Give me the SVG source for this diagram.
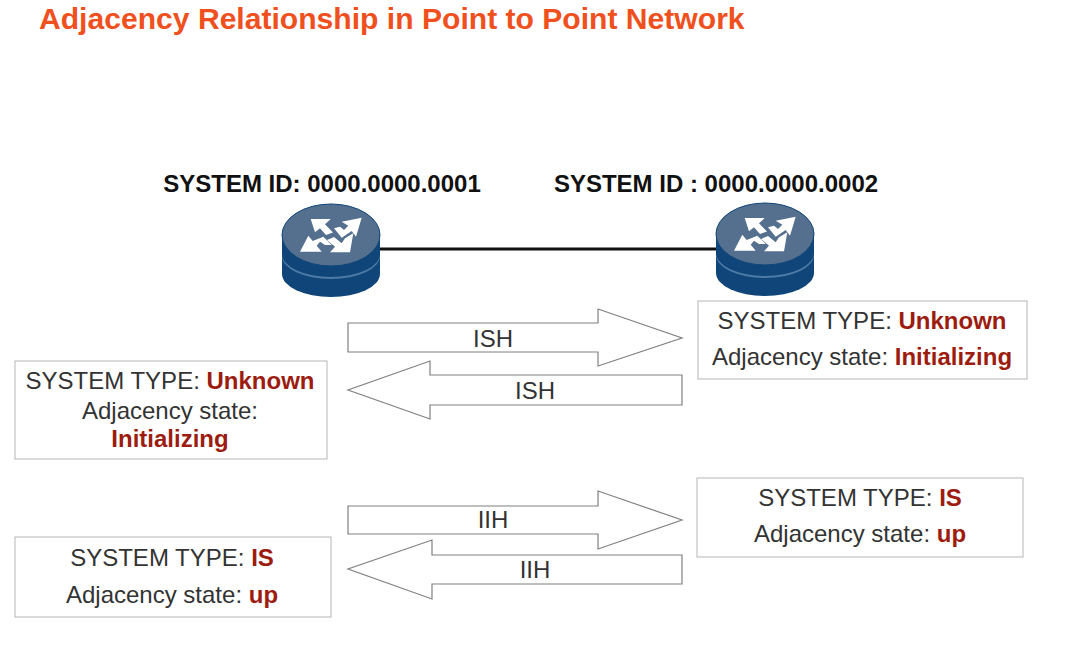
<svg xmlns="http://www.w3.org/2000/svg" width="1077" height="664" viewBox="0 0 1077 664">
<style>
text{font-family:"Liberation Sans",Arial,sans-serif}
.t{font-size:24px;fill:#333;text-anchor:middle}
.r{font-weight:700;fill:#9c1c10}
.h{font-size:24px;font-weight:700;fill:#111;text-anchor:middle}
.box{fill:#fff;stroke:#b5b5b5;stroke-width:1}
.arr{fill:#fff;stroke:#808080;stroke-width:1.2}
.l{font-size:24px;fill:#333;text-anchor:middle}
</style>
<defs>
<g id="router">
<path d="M-49 -14V25A49 23 0 0 0 49 25V-14Z" fill="#0f4578"/>
<path d="M-49 5A49 23 0 0 0 49 5V7A49 23 0 0 1 -49 7Z" fill="#4f7aa6"/>
<ellipse cx="0" cy="-14" rx="49" ry="31" fill="#55708f" stroke="#0f4578" stroke-width="1"/>
<path d="M-20.3 -30L-0.3 -30L-6 -24.7L2 -16.5L-5 -14L-11 -20.7L-16 -16.7Z M30.7 -31.3L25 -12.3L20.7 -18L10.7 -11.3L3 -20.7L9 -22.3L13 -19L17.3 -23.3L10.7 -27.3Z M-31 2.7L-22.7 -13.3L-18.3 -8L-7.7 -12.3L0.7 -4L-6 -4L-11 -7.3L-14.3 -3.3L-9.3 2.7Z M19 3.3L-1 3.3L4 -2.3L-4 -9L3 -12L10.7 -5.7L14 -10.7L22.3 -15.7Z" fill="#fff"/>
</g>
</defs>
<text x="39" y="29" font-size="30.1" font-weight="700" fill="#f0501e">Adjacency Relationship in Point to Point Network</text>
<g id="connectors">
<line x1="378" y1="249" x2="718" y2="249" stroke="#111" stroke-width="3"/>
<g id="arrow-ish-right"><path class="arr" d="M348 323H598V309L682 338L598 366V352H348Z"/><text class="l" x="493" y="347">ISH</text></g>
<g id="arrow-ish-left"><path class="arr" d="M682 375H430V361L348 390L430 419V405H682Z"/><text class="l" x="535" y="399">ISH</text></g>
<g id="arrow-iih-right"><path class="arr" d="M348 506H598V491L682 520L598 549V534H348Z"/><text class="l" x="493" y="528">IIH</text></g>
<g id="arrow-iih-left"><path class="arr" d="M682 555H432V540L348 569L432 599V584H682Z"/><text class="l" x="535" y="578">IIH</text></g>
</g>
<g id="router1"><use href="#router" x="331" y="249"/><text class="h" x="322" y="192">SYSTEM ID: 0000.0000.0001</text></g>
<g id="router2"><use href="#router" x="765" y="248"/><text class="h" x="716" y="192">SYSTEM ID : 0000.0000.0002</text></g>
<g id="box-r2-init"><rect class="box" x="698" y="301" width="329" height="78"/><text class="t" x="862" y="329">SYSTEM TYPE: <tspan class="r">Unknown</tspan></text><text class="t" x="862" y="365">Adjacency state: <tspan class="r">Initializing</tspan></text></g>
<g id="box-r1-init"><rect class="box" x="15" y="361" width="312" height="98"/><text class="t" x="170" y="389">SYSTEM TYPE: <tspan class="r">Unknown</tspan></text><text class="t" x="170" y="419">Adjacency state:</text><text class="t r" x="170" y="447">Initializing</text></g>
<g id="box-r2-up"><rect class="box" x="697" y="478" width="326" height="79"/><text class="t" x="860" y="506">SYSTEM TYPE: <tspan class="r">IS</tspan></text><text class="t" x="860" y="542">Adjacency state:  <tspan class="r">up</tspan></text></g>
<g id="box-r1-up"><rect class="box" x="15" y="537" width="316" height="80"/><text class="t" x="172" y="566">SYSTEM TYPE: <tspan class="r">IS</tspan></text><text class="t" x="172" y="603">Adjacency state:  <tspan class="r">up</tspan></text></g>
</svg>
